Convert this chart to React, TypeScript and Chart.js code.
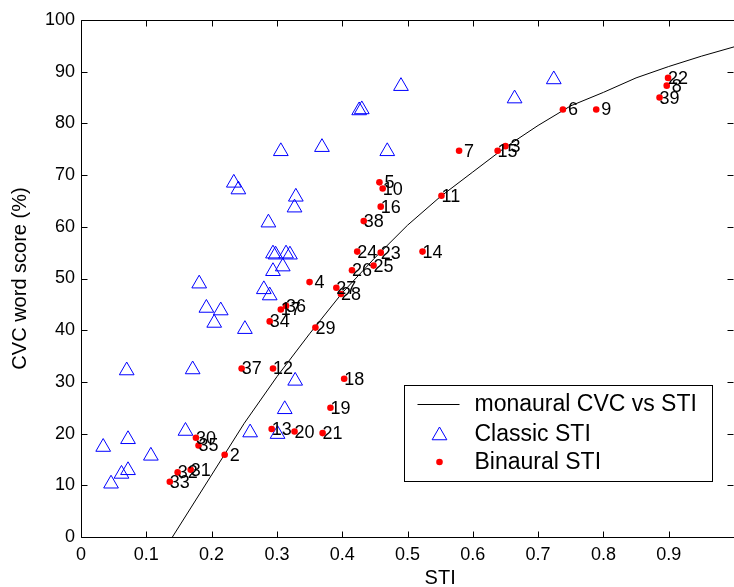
import React, { useEffect, useRef } from 'react';
import { Chart, registerables } from 'chart.js';

Chart.register(...registerables);

// ---- Data ----
const classicX = [0.034, 0.046, 0.062, 0.072, 0.072, 0.107, 0.160, 0.259, 0.301, 0.312, 0.328, 0.251, 0.294, 0.298, 0.314, 0.320, 0.294, 0.309, 0.280, 0.289, 0.181, 0.192, 0.214, 0.204, 0.171, 0.070, 0.306, 0.369, 0.234, 0.241, 0.329, 0.327, 0.287, 0.490, 0.426, 0.430, 0.469, 0.724, 0.664];
const classicY = [17.4, 10.3, 12.2, 12.9, 18.9, 15.7, 20.5, 20.2, 19.9, 24.7, 30.2, 40.2, 54.8, 54.6, 54.8, 54.6, 51.4, 52.3, 47.9, 46.7, 49.0, 44.3, 43.8, 41.4, 32.4, 32.2, 74.6, 75.4, 68.5, 67.2, 65.8, 63.7, 60.8, 87.2, 82.5, 82.7, 74.6, 88.5, 84.8];

const binauralLabels = [2, 3, 4, 5, 6, 7, 8, 9, 10, 11, 12, 13, 14, 15, 16, 17, 18, 19, 20, 21, 22, 23, 24, 25, 26, 27, 28, 29, 30, 31, 32, 33, 34, 35, 36, 37, 38, 39];
const binauralX = [0.220, 0.650, 0.350, 0.457, 0.738, 0.579, 0.897, 0.789, 0.462, 0.552, 0.294, 0.292, 0.523, 0.638, 0.459, 0.306, 0.403, 0.382, 0.327, 0.370, 0.899, 0.459, 0.423, 0.448, 0.415, 0.391, 0.398, 0.359, 0.176, 0.168, 0.148, 0.136, 0.289, 0.180, 0.314, 0.246, 0.433, 0.886];
const binauralY = [15.9, 75.6, 49.3, 68.6, 82.7, 74.7, 87.3, 82.7, 67.4, 66.0, 32.6, 20.9, 55.2, 74.7, 63.9, 44.0, 30.6, 25.0, 20.4, 20.1, 88.8, 55.0, 55.2, 52.5, 51.6, 48.2, 47.0, 40.5, 19.2, 13.0, 12.5, 10.7, 41.7, 17.7, 44.7, 32.6, 61.1, 85.0];

const curveX = [0.14, 0.20, 0.25, 0.30, 0.35, 0.40, 0.45, 0.50, 0.55, 0.60, 0.65, 0.70, 0.75, 0.80, 0.85, 0.90, 0.95, 1.00];
const curveY = [0, 12, 22, 31, 39.3, 47.2, 54, 60.3, 65.8, 70.6, 75.4, 79.6, 83.4, 86, 88.8, 91, 93, 94.8];

const xTickValues = [0, 0.1, 0.2, 0.3, 0.4, 0.5, 0.6, 0.7, 0.8, 0.9];
const yTickValues = [0, 10, 20, 30, 40, 50, 60, 70, 80, 90, 100];

const seriesNames = ['monaural CVC vs STI', 'Classic STI', 'Binaural STI'];
const xTitle = 'STI';
const yTitle = 'CVC word score (%)';

const FONT = '"Liberation Sans", Arial, Helvetica, sans-serif';

function trianglePath(ctx: CanvasRenderingContext2D, x: number, y: number, r: number) {
  let rad = 0;
  ctx.beginPath();
  ctx.moveTo(x + Math.sin(rad) * r, y - Math.cos(rad) * r);
  rad += (2 * Math.PI) / 3;
  ctx.lineTo(x + Math.sin(rad) * r, y - Math.cos(rad) * r);
  rad += (2 * Math.PI) / 3;
  ctx.lineTo(x + Math.sin(rad) * r, y - Math.cos(rad) * r);
  ctx.closePath();
}

const overlayPlugin = {
  id: 'overlay',
  afterDatasetsDraw(chart: any) {
    const { ctx } = chart;
    const xs = chart.scales.x;
    const ys = chart.scales.y;
    const ca = chart.chartArea;
    ctx.save();
    ctx.beginPath();
    ctx.rect(ca.left, ca.top, ca.right - ca.left, ca.bottom - ca.top);
    ctx.clip();
    ctx.font = '18px ' + FONT;
    ctx.fillStyle = '#000';
    ctx.textAlign = 'left';
    ctx.textBaseline = 'middle';
    const spaceW = ctx.measureText(' ').width;
    binauralLabels.forEach((lab, i) => {
      const px = xs.getPixelForValue(binauralX[i]);
      const py = ys.getPixelForValue(binauralY[i]);
      const s = String(lab);
      ctx.fillText(s, px + (s.length < 2 ? spaceW : 0), py + 1);
    });
    ctx.restore();
  },
  afterDraw(chart: any) {
    const { ctx } = chart;
    const xs = chart.scales.x;
    const ys = chart.scales.y;
    const ca = chart.chartArea;
    ctx.save();
    // frame
    ctx.strokeStyle = '#000';
    ctx.lineWidth = 1;
    const L = Math.round(ca.left) + 0.5;
    const R = Math.round(ca.right) + 0.5;
    const T = Math.round(ca.top) + 0.5;
    const B = Math.round(ca.bottom) + 0.5;
    ctx.beginPath();
    ctx.moveTo(L, T); ctx.lineTo(R, T); ctx.lineTo(R, B); ctx.lineTo(L, B); ctx.closePath();
    ctx.stroke();
    // inward ticks
    const tl = 6;
    ctx.beginPath();
    xTickValues.forEach((v) => {
      const px = Math.round(xs.getPixelForValue(v)) + 0.5;
      ctx.moveTo(px, B); ctx.lineTo(px, B - tl);
      ctx.moveTo(px, T); ctx.lineTo(px, T + tl);
    });
    yTickValues.forEach((v) => {
      const py = Math.round(ys.getPixelForValue(v)) + 0.5;
      ctx.moveTo(L, py); ctx.lineTo(L + tl, py);
      ctx.moveTo(R - 1, py); ctx.lineTo(R - 1 - tl, py);
    });
    ctx.stroke();

    // x axis title (centred as in the original, whose axis runs past the cropped edge)
    ctx.fillStyle = '#000';
    ctx.font = '20px ' + FONT;
    ctx.textAlign = 'center';
    ctx.textBaseline = 'middle';
    ctx.fillText(xTitle, xs.getPixelForValue(0.55), ca.bottom + 41);

    // legend
    const bx1 = Math.round(ca.right - 22) + 0.5;
    const by1 = Math.round(ca.bottom - 56) + 0.5;
    const bx0 = bx1 - 308;
    const by0 = by1 - 96;
    ctx.fillStyle = '#fff';
    ctx.fillRect(bx0, by0, bx1 - bx0, by1 - by0);
    ctx.strokeStyle = '#000';
    ctx.strokeRect(bx0, by0, bx1 - bx0, by1 - by0);
    const rows = [by0 + 18.5, by0 + 48, by0 + 76.5];
    const symX = bx0 + 35;
    ctx.strokeStyle = '#000';
    ctx.beginPath();
    ctx.moveTo(bx0 + 13, Math.round(rows[0]) + 0.5);
    ctx.lineTo(bx0 + 55, Math.round(rows[0]) + 0.5);
    ctx.stroke();
    ctx.strokeStyle = '#0000ff';
    trianglePath(ctx, symX, rows[1] + 2, 8.5);
    ctx.stroke();
    ctx.fillStyle = '#ff0000';
    ctx.beginPath();
    ctx.arc(symX, rows[2], 3.3, 0, Math.PI * 2);
    ctx.fill();
    ctx.fillStyle = '#000';
    ctx.font = '23px ' + FONT;
    ctx.textAlign = 'left';
    ctx.textBaseline = 'middle';
    seriesNames.forEach((n, i) => ctx.fillText(n, bx0 + 70, rows[i] + 1));
    ctx.restore();
  },
};

export default function App() {
  const ref = useRef<HTMLCanvasElement | null>(null);
  useEffect(() => {
    document.body.style.margin = '0';
    const canvas = ref.current;
    if (!canvas) return;
    const chart = new Chart(canvas, {
      type: 'scatter',
      data: {
        datasets: [
          {
            type: 'line',
            label: seriesNames[0],
            data: curveX.map((x, i) => ({ x, y: curveY[i] })),
            borderColor: '#000',
            borderWidth: 1,
            pointRadius: 0,
            fill: false,
            tension: 0,
            order: 3,
          } as any,
          {
            label: seriesNames[1],
            data: classicX.map((x, i) => ({ x, y: classicY[i] })),
            pointStyle: 'triangle',
            pointRadius: 8.5,
            pointBorderColor: '#0000ff',
            pointBackgroundColor: 'rgba(0,0,0,0)',
            pointBorderWidth: 1,
            order: 2,
          },
          {
            label: seriesNames[2],
            data: binauralX.map((x, i) => ({ x, y: binauralY[i] })),
            pointStyle: 'circle',
            pointRadius: 3.3,
            pointBorderWidth: 0,
            pointBackgroundColor: '#ff0000',
            pointBorderColor: '#ff0000',
            order: 1,
          },
        ],
      },
      options: {
        animation: false,
        responsive: false,
        devicePixelRatio: 1,
        layout: { autoPadding: false, padding: { top: 20, right: 0, left: 0, bottom: 0 } },
        plugins: {
          legend: { display: false },
          tooltip: { enabled: false },
        },
        scales: {
          x: {
            type: 'linear',
            min: 0,
            max: 1,
            afterBuildTicks: (scale: any) => {
              scale.ticks = xTickValues.map((v) => ({ value: v }));
            },
            afterFit: (scale: any) => {
              scale.height = 50;
              scale.paddingLeft = 0;
              scale.paddingRight = 0;
            },
            grid: { display: false, drawTicks: false },
            border: { display: false },
            ticks: {
              padding: 7,
              color: '#000',
              font: { family: FONT, size: 18 },
              maxRotation: 0,
              autoSkip: false,
              callback: (v: any) => String(Math.round(Number(v) * 10) / 10),
            },
            title: { display: false },
          },
          y: {
            type: 'linear',
            min: 0,
            max: 100,
            afterBuildTicks: (scale: any) => {
              scale.ticks = yTickValues.map((v) => ({ value: v }));
            },
            afterFit: (scale: any) => {
              scale.width = 81;
              scale.paddingTop = 0;
              scale.paddingBottom = 0;
            },
            grid: { display: false, drawTicks: false },
            border: { display: false },
            ticks: {
              padding: 6,
              color: '#000',
              font: { family: FONT, size: 18 },
              autoSkip: false,
              callback: (v: any) => String(v),
            },
            title: {
              display: true,
              text: yTitle,
              color: '#000',
              font: { family: FONT, size: 20, lineHeight: 1.2 },
              padding: { top: 8, bottom: 0 },
            },
          },
        },
      },
      plugins: [overlayPlugin],
    });
    return () => chart.destroy();
  }, []);
  return (
    <div style={{ width: 734, height: 587 }}>
      <canvas ref={ref} width={734} height={587} style={{ display: 'block' }} />
    </div>
  );
}
